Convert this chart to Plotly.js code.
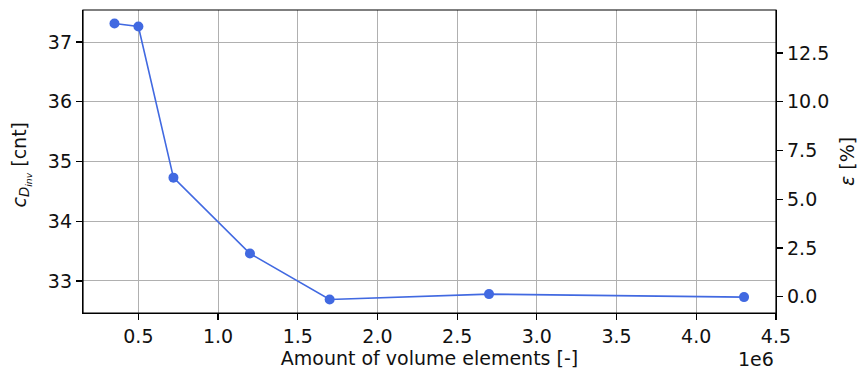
<!DOCTYPE html>
<html>
<head>
<meta charset="utf-8">
<script src="https://cdn.plot.ly/plotly-3.0.1.min.js"></script>
<style>html,body{margin:0;padding:0;background:#fff;}#chart{width:861px;height:374px;}</style>
</head>
<body>
<div id="chart"></div>
<script>
// Data
var elements = [350000, 500000, 720000, 1200000, 1700000, 2700000, 4300000];
var cD = [37.31, 37.26, 34.73, 33.46, 32.69, 32.78, 32.73];
var eps = [14.0, 13.85, 6.1, 2.2, -0.12, 0.15, 0.0];
var xTickVals = [500000, 1000000, 1500000, 2000000, 2500000, 3000000, 3500000, 4000000, 4500000];
var xTickText = ["0.5", "1.0", "1.5", "2.0", "2.5", "3.0", "3.5", "4.0", "4.5"];
var yTickVals = [33, 34, 35, 36, 37];
var y2TickVals = [0, 2.5, 5, 7.5, 10, 12.5];
var y2TickText = ["0.0", "2.5", "5.0", "7.5", "10.0", "12.5"];

var FONT = "DejaVu Sans, sans-serif";
var FS = 19;
var TXT = "#111";
var blue = "#4169e1";

var traces = [
  {
    x: elements, y: cD, type: "scatter", mode: "lines+markers",
    line: {color: blue, width: 1.6},
    marker: {color: blue, size: 10},
    xaxis: "x", yaxis: "y", hoverinfo: "x+y"
  },
  {
    x: elements, y: eps, type: "scatter", mode: "markers",
    marker: {color: "rgba(0,0,0,0)", size: 1},
    xaxis: "x", yaxis: "y2", hoverinfo: "skip", showlegend: false
  }
];

var axisCommon = {
  showline: true, linecolor: "#000", linewidth: 1.2, mirror: false,
  ticks: "outside", ticklen: 6, tickwidth: 1.2, tickcolor: "#000",
  tickfont: {family: FONT, size: FS, color: TXT},
  zeroline: false
};

var layout = {
  width: 861, height: 374,
  margin: {l: 83, r: 85, t: 10, b: 61},
  paper_bgcolor: "#fff", plot_bgcolor: "#fff",
  showlegend: false,
  font: {family: FONT, size: FS, color: TXT},
  xaxis: Object.assign({}, axisCommon, {
    range: [152500, 4500500],
    tickmode: "array", tickvals: xTickVals, ticktext: xTickText,
    showgrid: true, gridcolor: "#b0b0b0", gridwidth: 1,
    title: {text: "Amount of volume elements [-]", font: {family: FONT, size: FS, color: TXT}, standoff: 4}
  }),
  yaxis: Object.assign({}, axisCommon, {
    range: [32.464, 37.536],
    tickmode: "array", tickvals: yTickVals, ticktext: yTickVals.map(String),
    showgrid: true, gridcolor: "#b0b0b0", gridwidth: 1
  }),
  yaxis2: Object.assign({}, axisCommon, {
    overlaying: "y", side: "right", anchor: "x",
    range: [-0.83, 14.70],
    tickmode: "array", tickvals: y2TickVals, ticktext: y2TickText,
    showgrid: false,
    title: {text: "<i>ε</i> [%]", font: {family: FONT, size: FS, color: TXT}, standoff: 12}
  }),
  shapes: [
    {type: "rect", xref: "paper", yref: "paper", x0: 0, x1: 1, y0: 0, y1: 1, line: {color: "#000", width: 1.2}, fillcolor: "rgba(0,0,0,0)", layer: "above"}
  ],
  annotations: [
    {text: "1e6", xref: "paper", yref: "paper", x: 1, y: 0, xanchor: "right", yanchor: "top", yshift: -33, showarrow: false, font: {family: FONT, size: FS, color: TXT}},
    {text: "<i>c</i><sub><i>D</i><sub><i>inv</i></sub></sub> [cnt]", xref: "paper", yref: "paper", x: 0, y: 0.5, xanchor: "center", yanchor: "middle", xshift: -62, yshift: -3, textangle: -90, showarrow: false, font: {family: FONT, size: FS, color: TXT}}
  ]
};

Plotly.newPlot("chart", traces, layout, {displayModeBar: false, staticPlot: true});
</script>
</body>
</html>
